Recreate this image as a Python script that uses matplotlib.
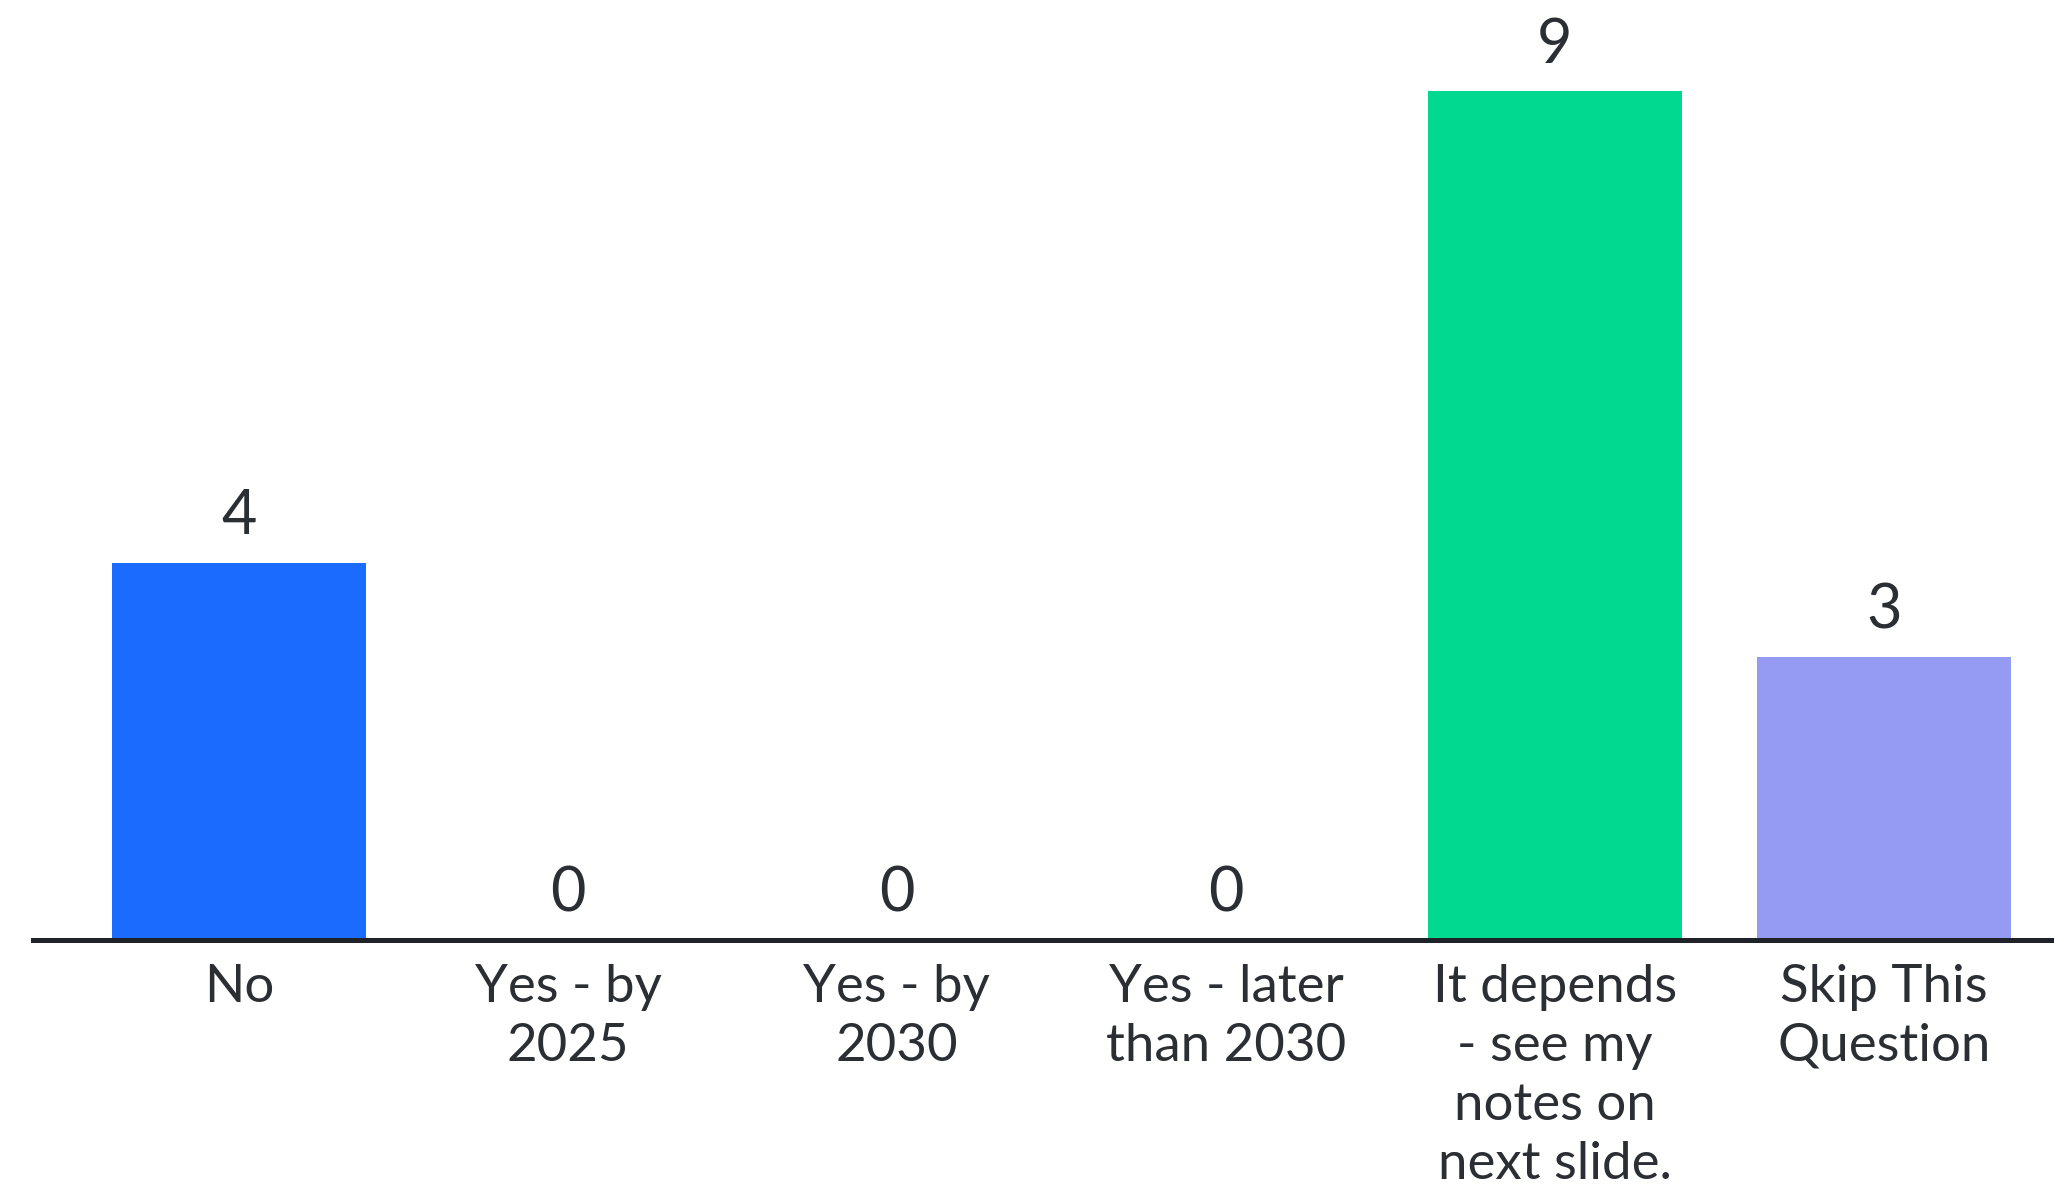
import matplotlib
matplotlib.use('Agg')
import matplotlib.pyplot as plt

# donnees du graphique
categories = ['No', 'Yes - by\n2025', 'Yes - by\n2030', 'Yes - later\nthan 2030',
              'It depends\n- see my\nnotes on\nnext slide.', 'Skip This\nQuestion']
valeurs = [4, 0, 0, 0, 9, 3]
couleurs = ['#1b6bff', '#1b6bff', '#1b6bff', '#1b6bff', '#00d98f', '#959af2']

plt.rcParams['font.family'] = ['Lato', 'DejaVu Sans']
texte = '#2b2e33'

fig = plt.figure(figsize=(20.54, 11.90), dpi=100)
ax = fig.add_axes([33/2054, 250/1190, 1 - 33/2054, 896/1190])

x = list(range(len(categories)))
ax.bar(x, valeurs, width=0.77, color=couleurs, zorder=2)

# valeurs au dessus des barres
for i, v in enumerate(valeurs):
    ax.annotate(str(v), (i, v), xytext=(0, 12.5), textcoords='offset points',
                ha='center', va='bottom', fontsize=44, color=texte, clip_on=False)

ax.set_xlim(-0.626, 5.517)
ax.set_ylim(0, 9.5)
ax.set_xticks(x)
ax.set_xticklabels(categories, fontsize=38, color=texte, linespacing=1.32)
ax.tick_params(axis='x', length=0, pad=17)
ax.set_yticks([])

for s in ['top', 'right', 'left']:
    ax.spines[s].set_visible(False)
ax.spines['bottom'].set_linewidth(3.6)
ax.spines['bottom'].set_color('#1f2329')
ax.spines['bottom'].set_zorder(3)

fig.savefig('out.png', dpi=100, facecolor='white')
